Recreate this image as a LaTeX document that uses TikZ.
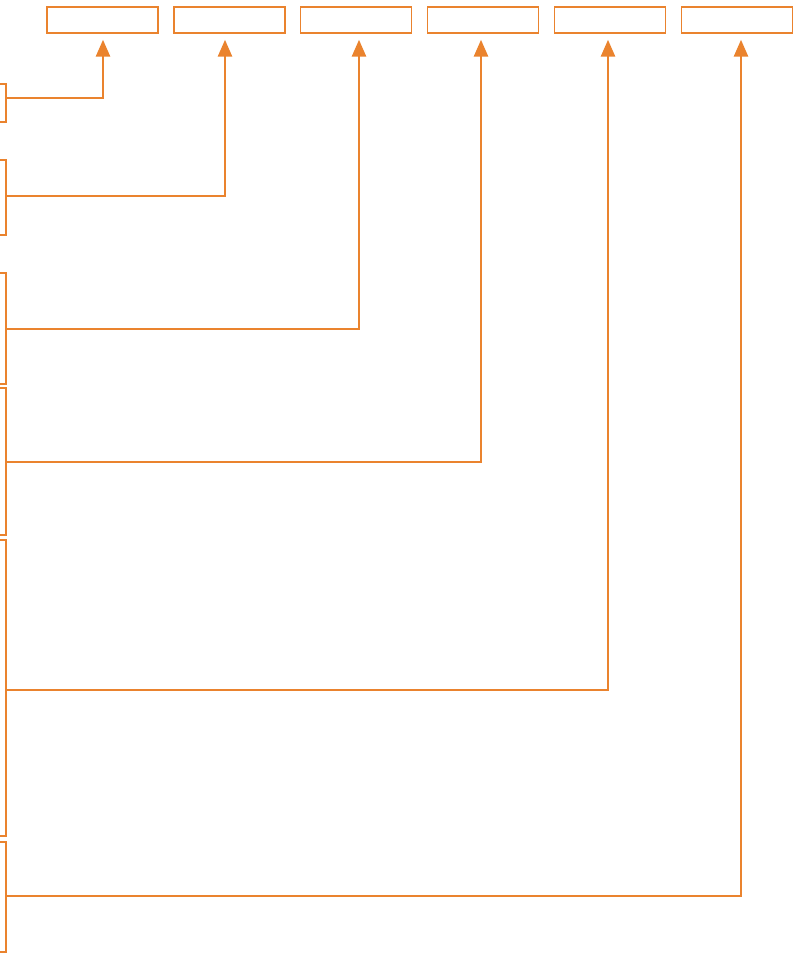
\documentclass[tikz,border=0pt]{standalone}
\usetikzlibrary{arrows.meta}
\definecolor{linkorange}{RGB}{234,131,46}
\begin{document}
\begin{tikzpicture}[x=1pt, y=-1pt,
  box/.style={draw=linkorange, line width=1.4pt, minimum width=111pt, minimum height=26pt, inner sep=0pt},
  brace/.style={draw=linkorange, line width=2.8pt},
  link/.style={draw=linkorange, line width=2.8pt, shorten >=6pt, -{Triangle[length=17pt,width=14pt]}}]
\useasboundingbox (0,0) rectangle (802,954);
\foreach \i/\x in {1/102.5,2/229.5,3/356,4/483,5/610,6/737} \node[box] (t\i) at (\x,20) {};
\foreach \i/\top/\mid/\bot in {1/84/98/122,2/160/196/235,3/273/329/384,4/388/462/535,5/540/690/836,6/842/896/952} {
  \draw[brace] (0,\top) -- (6,\top) -- (6,\bot) -- (0,\bot);
  \coordinate (b\i) at (6,\mid);
}
\foreach \i/\dx in {1/0.5,2/-4.5,3/3,4/-2,5/-2,6/4} \draw[link] (b\i) -| ([xshift=\dx pt]t\i.south);
\end{tikzpicture}
\end{document}
